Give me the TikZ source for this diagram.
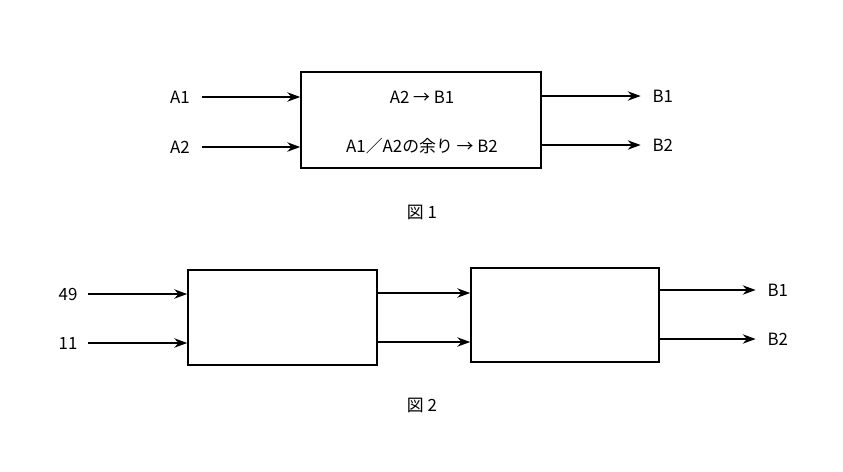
\documentclass[tikz,border=0pt]{standalone}
\usepackage{fontspec}
\setmainfont{Noto Sans CJK JP}
\usetikzlibrary{arrows.meta}
\tikzset{
  blk/.style={draw, line width=1.4pt, inner sep=0pt},
  arr/.style={line width=1.3pt, -{Stealth[length=11pt,width=8pt]}},
  lbl/.style={font=\Large, inner sep=2pt}
}
\begin{document}
\begin{tikzpicture}[x=0.03cm, y=-0.03cm]
\useasboundingbox (0,0) rectangle (843,471);
% figure 1
\node[blk, minimum width=240*0.03cm, minimum height=96*0.03cm] (f) at (421,120) {};
\node[lbl] (a1) at (180,97) {A1}; \node[lbl] (a2) at (180,147) {A2};
\node[lbl] (t1) at (422,97) {A2 → B1};
\node[lbl] (t2) at (422,146) {A1／A2の余り → B2};
\node[lbl, anchor=west] (b1) at (650,96) {B1};
\node[lbl, anchor=west] (b2) at (650,145) {B2};
\draw[arr] (a1.east) ++(10,0) -- (f.west |- a1);
\draw[arr] (a2.east) ++(10,0) -- (f.west |- a2);
\draw[arr] (f.east |- b1) -- ([xshift=-8pt]b1.west);
\draw[arr] (f.east |- b2) -- ([xshift=-8pt]b2.west);
\node[lbl] (c1) at (422,212) {図 1};
% figure 2
\node[blk, minimum width=189*0.03cm, minimum height=95*0.03cm] (p) at (282.5,317.5) {};
\node[blk, minimum width=188*0.03cm, minimum height=94*0.03cm] (q) at (565,315) {};
\node[lbl] (n1) at (68,294) {49}; \node[lbl] (n2) at (68,343) {11};
\node[lbl, anchor=west] (d1) at (765,290) {B1};
\node[lbl, anchor=west] (d2) at (765,339) {B2};
\draw[arr] (n1.east) ++(8,0) -- (p.west |- n1);
\draw[arr] (n2.east) ++(8,0) -- (p.west |- n2);
\coordinate (m1) at (p.east |- 0,293); \coordinate (m2) at (p.east |- 0,342);
\draw[arr] (m1) -- (q.west |- m1);
\draw[arr] (m2) -- (q.west |- m2);
\draw[arr] (q.east |- d1) -- ([xshift=-8pt]d1.west);
\draw[arr] (q.east |- d2) -- ([xshift=-8pt]d2.west);
\node[lbl] (c2) at (422,405) {図 2};
\end{tikzpicture}
\end{document}
